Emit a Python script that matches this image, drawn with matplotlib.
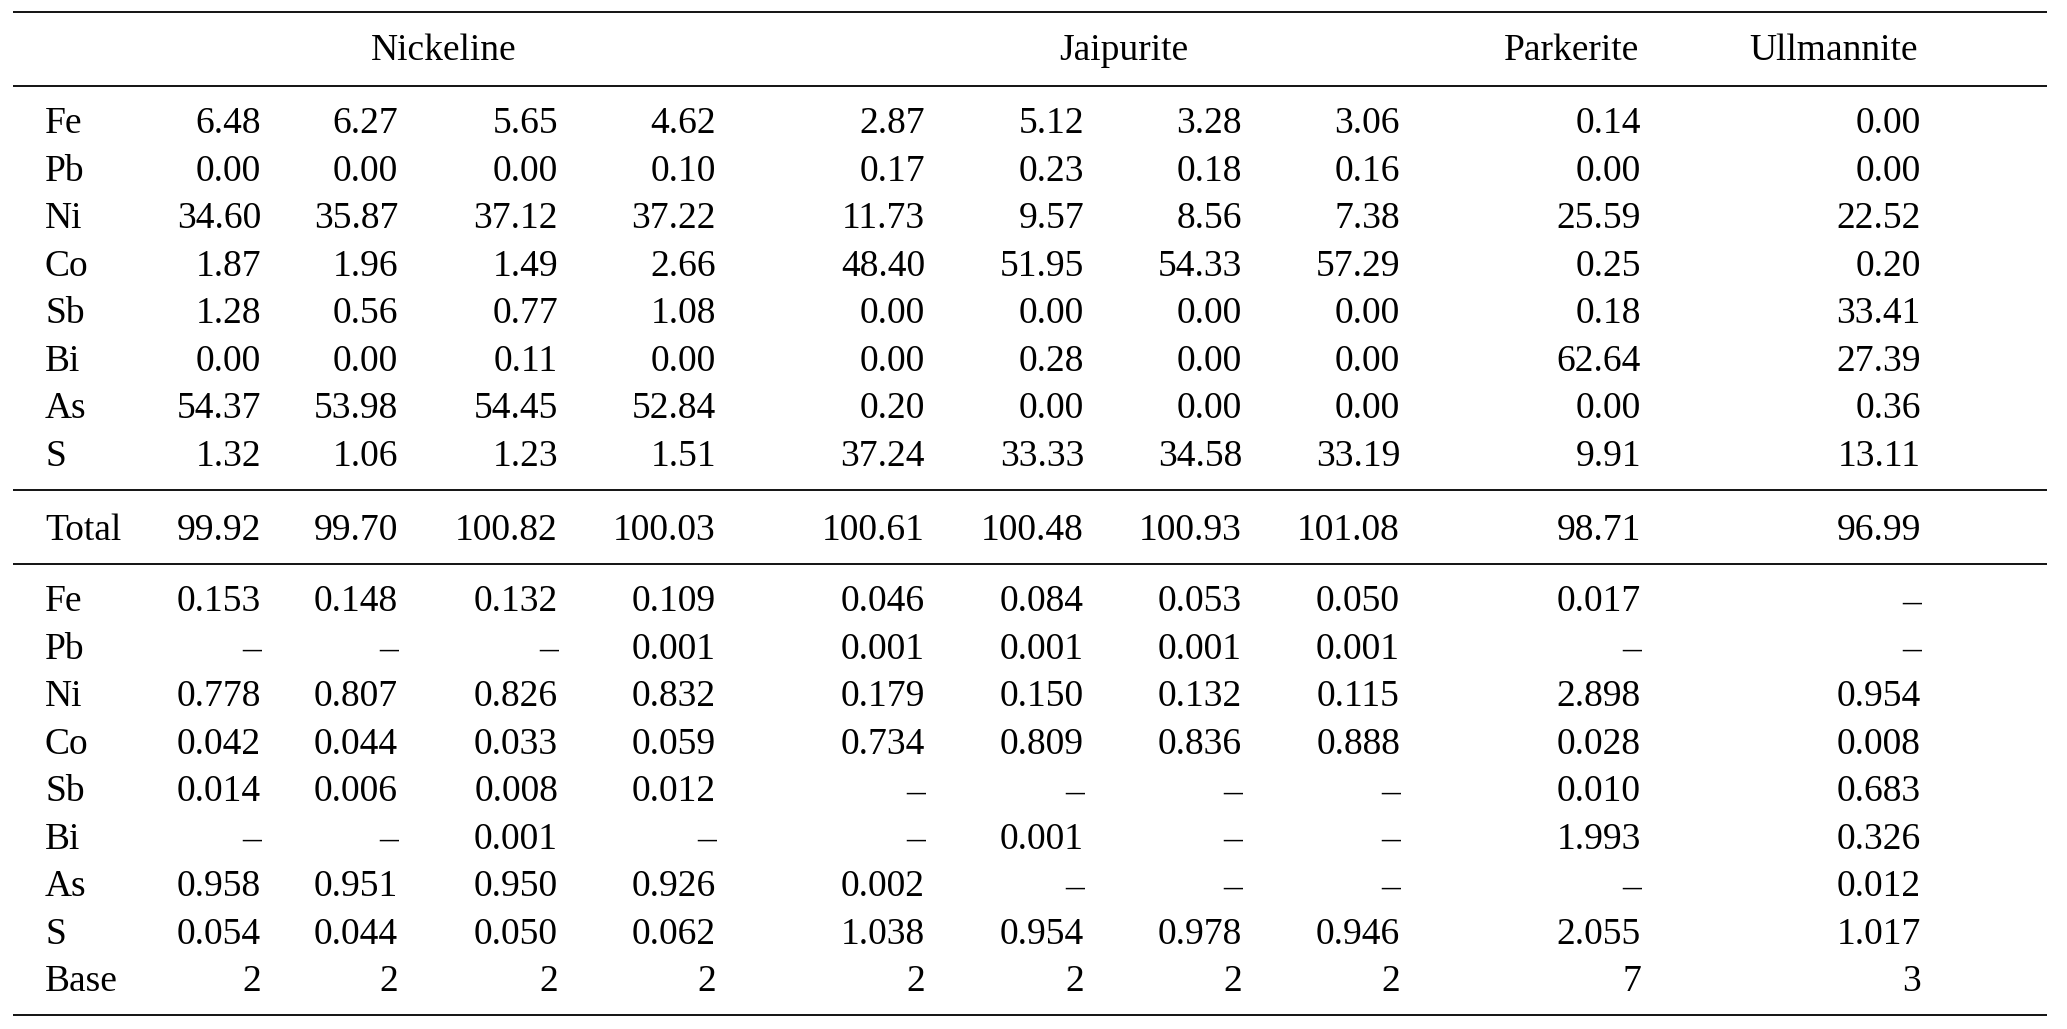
import matplotlib.pyplot as plt

# table content
minerals = ["Nickeline", "Jaipurite", "Parkerite", "Ullmannite"]
elements = ["Fe", "Pb", "Ni", "Co", "Sb", "Bi", "As", "S"]

wt_pct = [
    ["6.48", "6.27", "5.65", "4.62", "2.87", "5.12", "3.28", "3.06", "0.14", "0.00"],
    ["0.00", "0.00", "0.00", "0.10", "0.17", "0.23", "0.18", "0.16", "0.00", "0.00"],
    ["34.60", "35.87", "37.12", "37.22", "11.73", "9.57", "8.56", "7.38", "25.59", "22.52"],
    ["1.87", "1.96", "1.49", "2.66", "48.40", "51.95", "54.33", "57.29", "0.25", "0.20"],
    ["1.28", "0.56", "0.77", "1.08", "0.00", "0.00", "0.00", "0.00", "0.18", "33.41"],
    ["0.00", "0.00", "0.11", "0.00", "0.00", "0.28", "0.00", "0.00", "62.64", "27.39"],
    ["54.37", "53.98", "54.45", "52.84", "0.20", "0.00", "0.00", "0.00", "0.00", "0.36"],
    ["1.32", "1.06", "1.23", "1.51", "37.24", "33.33", "34.58", "33.19", "9.91", "13.11"],
]
totals = ["99.92", "99.70", "100.82", "100.03", "100.61", "100.48", "100.93", "101.08", "98.71", "96.99"]

D = "\u2013"
apfu = [
    ["0.153", "0.148", "0.132", "0.109", "0.046", "0.084", "0.053", "0.050", "0.017", D],
    [D, D, D, "0.001", "0.001", "0.001", "0.001", "0.001", D, D],
    ["0.778", "0.807", "0.826", "0.832", "0.179", "0.150", "0.132", "0.115", "2.898", "0.954"],
    ["0.042", "0.044", "0.033", "0.059", "0.734", "0.809", "0.836", "0.888", "0.028", "0.008"],
    ["0.014", "0.006", "0.008", "0.012", D, D, D, D, "0.010", "0.683"],
    [D, D, "0.001", D, D, "0.001", D, D, "1.993", "0.326"],
    ["0.958", "0.951", "0.950", "0.926", "0.002", D, D, D, D, "0.012"],
    ["0.054", "0.044", "0.050", "0.062", "1.038", "0.954", "0.978", "0.946", "2.055", "1.017"],
]
base = ["2", "2", "2", "2", "2", "2", "2", "2", "7", "3"]

# layout (pixel coords)
W, H = 2067, 1029
col_right = [261, 398, 558, 716, 925, 1084, 1242, 1400, 1641, 1921]
header_x = [444, 1124, 1571, 1834]
label_x = 45
row_h = 47.5
dy = 4  # small nudge so glyphs sit like the reference

fig = plt.figure(figsize=(W / 100, H / 100), dpi=100)
ax = fig.add_axes([0, 0, 1, 1])
ax.set_xlim(0, W)
ax.set_ylim(H, 0)
ax.axis("off")

fs = 27
font = dict(family="Liberation Serif", fontsize=fs, color="black", va="center")

def hline(y):
    ax.plot([13, 2047], [y, y], color="black", lw=1.3, solid_capstyle="butt")

def row(y, label, values):
    ax.text(label_x, y + dy, label, ha="left", **font)
    for x, v in zip(col_right, values):
        ax.text(x, y + dy, v, ha="right", **font)

hline(12)
for x, name in zip(header_x, minerals):
    ax.text(x, 47 + dy, name, ha="center", **font)
hline(86)

y0 = 120
for i, el in enumerate(elements):
    row(y0 + i * row_h, el, wt_pct[i])

hline(490)
row(527, "Total", totals)
hline(564)

y1 = 598
for i, el in enumerate(elements):
    row(y1 + i * row_h, el, apfu[i])
row(y1 + 8 * row_h, "Base", base)
hline(1015)

fig.savefig("out.png", dpi=100, facecolor="white")
